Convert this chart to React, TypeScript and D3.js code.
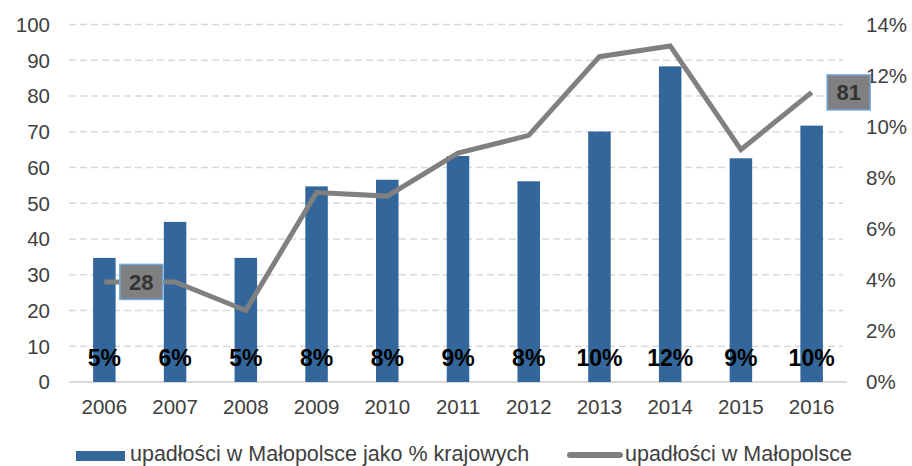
import React from "react";
import * as d3 from "d3";

const years = ["2006", "2007", "2008", "2009", "2010", "2011", "2012", "2013", "2014", "2015", "2016"];
// share of national bankruptcies (%), plotted against right axis
const sharePct = [4.86, 6.27, 4.86, 7.66, 7.92, 8.85, 7.86, 9.81, 12.36, 8.76, 10.04];
// bankruptcies count in Małopolska, plotted against left axis
const counts = [28, 28, 20, 53, 52, 64, 69, 91, 94, 65, 81];
const leftTicks = [0, 10, 20, 30, 40, 50, 60, 70, 80, 90, 100];
const rightTicks = [0, 2, 4, 6, 8, 10, 12, 14];
const labeledCountIdx = [0, 10];
const legendLabels = ["upadłości w Małopolsce jako % krajowych", "upadłości w Małopolsce"];

const W = 912;
const H = 466;
const FONT = "'Liberation Sans', Arial, sans-serif";
const BAR = "#33669a";
const LINE = "#808080";
const GRID = "#d9d9d9";
const TXT = "#404040";

export default function App() {
  const x = d3.scaleBand<string>().domain(years).range([69, 847]).paddingInner(0).paddingOuter(0);
  const yL = d3.scaleLinear().domain([0, 100]).range([382, 24.5]);
  const yR = d3.scaleLinear().domain([0, 14]).range([382, 24.5]);
  const bw = 22.5;
  const cx = (y: string) => (x(y) as number) + x.bandwidth() / 2;
  const line = d3
    .line<number>()
    .x((_, i) => cx(years[i]))
    .y((d) => yL(d));

  return (
    <svg
      width={W}
      height={H}
      style={{ position: "fixed", left: 0, top: 0, background: "#fff" }}
      fontFamily={FONT}
    >
      <rect x={0} y={0} width={W} height={H} fill="#fff" />
      {leftTicks.slice(1).map((t) => (
        <line
          key={"g" + t}
          x1={69}
          x2={843}
          y1={yL(t)}
          y2={yL(t)}
          stroke={GRID}
          strokeWidth={1.5}
          strokeDasharray="7 4"
        />
      ))}
      <line x1={69} x2={847} y1={yL(0)} y2={yL(0)} stroke={GRID} strokeWidth={2} />
      {leftTicks.map((t) => (
        <text key={"l" + t} x={50} y={yL(t)} dy="0.36em" textAnchor="end" fontSize={20.5} fill={TXT}>
          {t}
        </text>
      ))}
      {rightTicks.map((t) => (
        <text key={"r" + t} x={866} y={yR(t)} dy="0.36em" textAnchor="start" fontSize={20.5} fill={TXT}>
          {t}%
        </text>
      ))}
      {years.map((y) => (
        <text key={"x" + y} x={cx(y)} y={414} textAnchor="middle" fontSize={20.5} fill={TXT}>
          {y}
        </text>
      ))}
      {sharePct.map((v, i) => (
        <rect
          key={"b" + i}
          x={cx(years[i]) - bw / 2}
          y={yR(v)}
          width={bw}
          height={yR(0) - yR(v)}
          fill={BAR}
        />
      ))}
      <path d={line(counts) || ""} fill="none" stroke={LINE} strokeWidth={5} strokeLinejoin="miter" />
      {sharePct.map((v, i) => (
        <text
          key={"bl" + i}
          x={cx(years[i])}
          y={366}
          textAnchor="middle"
          fontSize={23}
          fontWeight="bold"
          fill="#000"
        >
          {Math.round(v)}%
        </text>
      ))}
      {labeledCountIdx.map((i) => {
        const px = cx(years[i]) + 37;
        const py = yL(counts[i]);
        return (
          <g key={"cl" + i}>
            <rect x={px - 21.5} y={py - 17.5} width={43} height={35} fill={LINE} stroke="#6fa8dc" strokeWidth={1.5} />
            <text x={px} y={py} dy="0.36em" textAnchor="middle" fontSize={22} fontWeight="bold" fill="#333">
              {counts[i]}
            </text>
          </g>
        );
      })}
      <rect x={76} y={451} width={49} height={10} fill={BAR} />
      <text x={130} y={461} fontSize={21.5} fill={TXT}>
        {legendLabels[0]}
      </text>
      <line x1={570} x2={620} y1={455} y2={455} stroke={LINE} strokeWidth={6} strokeLinecap="round" />
      <text x={625} y={461} fontSize={21.5} fill={TXT}>
        {legendLabels[1]}
      </text>
    </svg>
  );
}
